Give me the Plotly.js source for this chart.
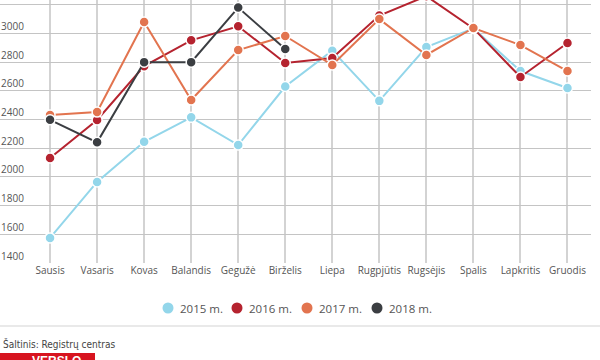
<!DOCTYPE html>
<html>
<head>
<meta charset="utf-8">
<script src="https://cdn.plot.ly/plotly-3.0.1.min.js"></script>
<style>html,body{margin:0;padding:0;background:#fff;}#chart{width:600px;height:360px;}</style>
</head>
<body>
<div id="chart"></div>
<script>
const months = ["Sausis","Vasaris","Kovas","Balandis","Gegužė","Birželis","Liepa","Rugpjūtis","Rugsėjis","Spalis","Lapkritis","Gruodis"];
const y2015 = [1575, 1965, 2245, 2415, 2222, 2630, 2880, 2530, 2905, 3035, 2738, 2620];
const y2016 = [2132, 2397, 2772, 2952, 3050, 2794, 2829, 3125, 3260, 3035, 2696, 2933];
const y2017 = [2431, 2452, 3080, 2536, 2884, 2982, 2780, 3100, 2850, 3038, 2919, 2738];
const y2018 = [2398, 2241, 2800, 2800, 3180, 2891];
const seriesNames = ["2015 m.", "2016 m.", "2017 m.", "2018 m."];
const colors = ["#93d6ea", "#b5232f", "#e2744f", "#3b3e42"];
const yTicks = [1400, 1600, 1800, 2000, 2200, 2400, 2600, 2800, 3000, 3200];
const sourceText = "Šaltinis: Registrų centras";
const logoText = "VERSLO";

const allY = [y2015, y2016, y2017, y2018];
const traces = allY.map((ys, i) => ({
  type: "scatter", mode: "lines+markers",
  name: seriesNames[i],
  x: months.slice(0, ys.length), y: ys,
  line: {color: colors[i], width: 2},
  marker: {color: colors[i], size: 10, line: {color: "#fff", width: 1.5}},
  showlegend: false, hoverinfo: "skip"
}));

const plotW = 591, plotH = 263;
const px = v => v / plotW;
const py = v => -(v - plotH) / plotH; // page y (px) -> paper y

// legend (drawn as circle shapes + text)
const legendX = [168, 237, 307, 377];
const legendY = 308;
const shapes = [
  {type: "line", xref: "paper", yref: "paper", x0: 0, x1: 600 / plotW, y0: py(326), y1: py(326),
   line: {color: "#e2e2e2", width: 1.5}},
  {type: "rect", xref: "paper", yref: "paper", x0: 0, x1: px(95), y0: py(353), y1: py(365),
   fillcolor: "#d7141f", line: {width: 0}}
];
const annotations = [
  {xref: "paper", yref: "paper", x: px(1), y: py(344), xanchor: "left", yanchor: "middle",
   text: sourceText, showarrow: false,
   font: {family: "Liberation Sans Narrow, DejaVu Sans Condensed", size: 10, color: "#444"}},
  {xref: "paper", yref: "paper", x: px(30), y: py(352), xanchor: "left", yanchor: "top",
   text: "<b>" + logoText + "</b>", showarrow: false,
   font: {family: "Liberation Sans", size: 12, color: "#fff"}}
];
seriesNames.forEach((nm, i) => {
  shapes.push({type: "circle", xref: "paper", yref: "paper",
    xsizemode: "pixel", ysizemode: "pixel",
    xanchor: px(legendX[i]), yanchor: py(legendY),
    x0: -5.5, x1: 5.5, y0: -5.5, y1: 5.5,
    fillcolor: colors[i], line: {width: 0}});
  annotations.push({xref: "paper", yref: "paper", x: px(legendX[i] + 10), y: py(legendY),
    xanchor: "left", yanchor: "middle", text: nm, showarrow: false,
    font: {family: "Open Sans", size: 11.5, color: "#555"}});
});

const layout = {
  width: 600, height: 360,
  margin: {l: 0, r: 600 - plotW, t: 0, b: 360 - plotH},
  paper_bgcolor: "#fff", plot_bgcolor: "#fff",
  font: {family: "Open Sans", color: "#555", size: 10},
  showlegend: false,
  xaxis: {
    type: "category", categoryarray: months,
    range: [-1.064, 11.5],
    showgrid: true, gridcolor: "#d3d3d3", gridwidth: 2,
    zeroline: false, showline: false, ticks: "",
    tickfont: {family: "Open Sans", size: 10, color: "#555"},
    fixedrange: true
  },
  yaxis: {
    range: [1400, 3233],
    tickvals: yTicks,
    ticklabelposition: "inside top",
    ticklabelstandoff: -2,
    showgrid: true, gridcolor: "#c4c4c4", gridwidth: 1,
    zeroline: false, showline: false, ticks: "",
    tickfont: {family: "Open Sans", size: 10, color: "#555"},
    fixedrange: true
  },
  shapes: shapes,
  annotations: annotations
};

Plotly.newPlot("chart", traces, layout, {displayModeBar: false, staticPlot: true});
</script>
</body>
</html>
